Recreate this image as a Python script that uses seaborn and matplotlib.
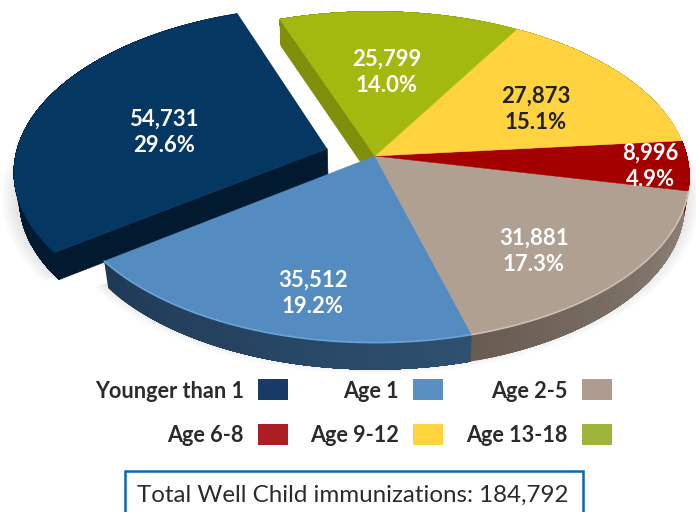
import numpy as np
import seaborn as sns
import matplotlib
matplotlib.use("Agg")
import matplotlib.pyplot as plt
from matplotlib.colors import to_rgb
from matplotlib.patches import Rectangle

# ---- data
categories = ["Younger than 1", "Age 1", "Age 2-5", "Age 6-8", "Age 9-12", "Age 13-18"]
counts = [54731, 35512, 31881, 8996, 27873, 25799]
percent_labels = ["29.6%", "19.2%", "17.3%", "4.9%", "15.1%", "14.0%"]
total_label = "Total Well Child immunizations: 184,792"

# ---- styles
top_colors = ["#053763", "#548bc0", "#b0a092", "#a50000", "#ffd340", "#a3b90f"]
key_colors = ["#173a67", "#5a8fc4", "#ad9c8f", "#ab1e22", "#ffd33e", "#9db53a"]
label_colors = ["white", "white", "white", "white", "#222222", "white"]
wall_left = ["#011a30", "#1f3a56", "#685c52", "#6b0000", "#a08520", "#7f8f0a"]
wall_right = ["#011a30", "#2f5070", "#8e8379", "#6b0000", "#a08520", "#7f8f0a"]
rim_colors = [None, "#6ba3d8", "#cdbfb2", None, None, None]

sns.set_theme(style="white")
plt.rcParams["font.family"] = ["Lato", "DejaVu Sans"]
palette = sns.color_palette(top_colors)

fig = plt.figure(figsize=(6.96, 5.12), dpi=100)
ax = fig.add_axes([0, 0, 1, 1])
ax.set_xlim(0, 696)
ax.set_ylim(512, 0)
ax.axis("off")

# ---- perspective disc: unit-plane to image pixels
CX, CY, RX, RY, K = 375.0, 156.0, 312.0, 163.0, 0.1265
DEPTH, SHRINK = 27.0, 0.985


def top_xy(u, v):
    d = 1 + K * v
    return CX + RX * u / d, CY - RY * v / d


def low_xy(u, v):
    x, y = top_xy(u, v)
    return CX + (x - CX) * SHRINK, y + DEPTH


shares = np.array(counts) / np.sum(counts) * 360.0
start = 110.0  # counter-clockwise from the navy slice's leading edge
edges = start + np.concatenate([[0], np.cumsum(shares)])


def arc(a0, a1, n=80):
    t = np.radians(np.linspace(a0, a1, n))
    return np.cos(t), np.sin(t)


def face(i, off=(0, 0)):
    u, v = arc(edges[i], edges[i + 1])
    u = np.concatenate([[0], u]) + off[0]
    v = np.concatenate([[0], v]) + off[1]
    return top_xy(u, v)


# ---- soft shadow behind the disc (wedges only, the gap stays white)
off_navy = (-0.154, 0.045)
ub, vb = arc(edges[1], edges[6], 240)
ub, vb = np.concatenate([[0], ub]), np.concatenate([[0], vb])
ua, va = arc(edges[0], edges[1], 120)
ua, va = np.concatenate([[0], ua]), np.concatenate([[0], va])
for grow in np.linspace(1.05, 1.0, 10):
    x, y = low_xy(ub * grow, vb * grow)
    ax.fill(x, y - 6, color="#555555", alpha=0.016, lw=0, zorder=1)
    x, y = low_xy(ua * grow + off_navy[0], va * grow + off_navy[1])
    ax.fill(x - 2, y - 4, color="#555555", alpha=0.016, lw=0, zorder=1)


def wall(i, off, z):
    a = np.linspace(edges[i], edges[i + 1], 50)
    c0, c1 = np.array(to_rgb(wall_left[i])), np.array(to_rgb(wall_right[i]))
    for j in range(len(a) - 1):
        # each strip runs to the slice's end, so later strips overpaint without seams
        t = np.radians(a[j:])
        uu, vv = np.cos(t) + off[0], np.sin(t) + off[1]
        xt, yt = top_xy(uu, vv)
        xl, yl = low_xy(uu, vv)
        f = j / (len(a) - 2)
        ax.fill(np.concatenate([xt, xl[::-1]]), np.concatenate([yt, yl[::-1]]),
                color=c0 + (c1 - c0) * f, lw=0, zorder=z)


def cut_wall(angle, off, color, z):
    t = np.radians(angle)
    uu = np.array([0, np.cos(t)]) + off[0]
    vv = np.array([0, np.sin(t)]) + off[1]
    xt, yt = top_xy(uu, vv)
    xl, yl = low_xy(uu, vv)
    ax.fill([xt[0], xt[1], xl[1], xl[0]], [yt[0], yt[1], yl[1], yl[0]], color=color, lw=0.5, zorder=z)


# ---- navy exploded slice, then the rest of the disc
wall(0, off_navy, 2)
cut_wall(edges[1], off_navy, wall_left[0], 2)
x, y = face(0, off_navy)
ax.fill(x, y, color=palette[0], lw=0, zorder=3)

cut_wall(edges[0], (0, 0), wall_left[5], 4)
for i in range(1, 6):
    wall(i, (0, 0), 4)
for i in range(1, 6):
    x, y = face(i)
    ax.fill(x, y, color=palette[i], lw=0.3, zorder=5)
    if rim_colors[i]:
        ua2, va2 = arc(edges[i], edges[i + 1])
        xr, yr = top_xy(ua2, va2)
        ax.plot(xr, yr, color=rim_colors[i], lw=1.2, zorder=6)

# ---- slice labels
label_xy = [(164, 132), (313, 293), (534, 251), (650, 166), (536, 109), (387, 72)]
for i, (lx, ly) in enumerate(label_xy):
    ax.text(lx, ly, f"{counts[i]:,}\n{percent_labels[i]}", ha="center", va="center",
            color=label_colors[i], fontsize=15.9, fontweight="bold", linespacing=1.32, zorder=8)

# ---- key
key_x = [244, 399, 568]
key_y = [391, 436]
for i, name in enumerate(categories):
    r, c = divmod(i, 3)
    ax.text(key_x[c], key_y[r], name, ha="right", va="center", color="#2b2b2b",
            fontsize=15.6, fontweight="bold", zorder=8)
    ax.add_patch(Rectangle((key_x[c] + 14, key_y[r] - 12), 30, 21, color=key_colors[i], lw=0, zorder=8))

# ---- total box
ax.add_patch(Rectangle((124.5, 470.5), 458, 60, fc="white", ec="#0b66ae", lw=1.8, zorder=8))
ax.text(353, 495, total_label, ha="center", va="center", color="#2b2b2b", fontsize=17.4, zorder=9)

fig.savefig("out.png", dpi=100, facecolor="white")
